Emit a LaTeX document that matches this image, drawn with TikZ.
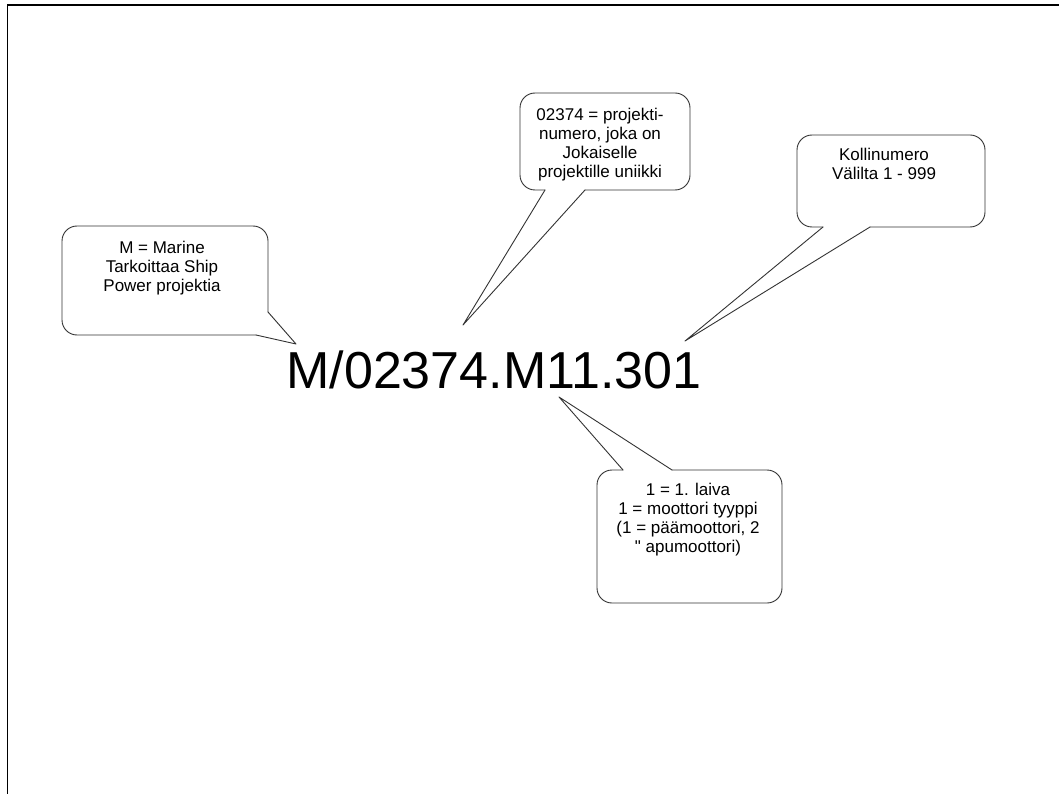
\documentclass[tikz,border=0pt]{standalone}
\usepackage{fontspec}
\setmainfont{Liberation Sans}
\newfontfamily\plainsans{Liberation Sans}
\begin{document}
\begin{tikzpicture}[x=1pt,y=-1pt,
  bubble/.style={draw=black!80, line width=0.9pt, line join=round, line cap=round},
  boxoutline/.style={bubble, rounded corners=15pt},
  bubbletext/.style={anchor=north, inner sep=0pt, align=center, font=\plainsans\fontsize{17}{19}\selectfont},
  frameline/.style={line width=1.8pt}]
\useasboundingbox (0,0) rectangle (1059,794);
\fill[white] (0,0) rectangle (1059,794);
\draw[frameline] (7.5,794) -- (7.5,5) -- (1059,5);

% main code
\node[anchor=base, inner sep=0pt, font=\plainsans\fontsize{52}{60}\selectfont] (code) at (494,388) {M/02374.M11.301};

% left callout
\coordinate (tipA) at (296,344);
\draw[boxoutline] (256,335) -- (62,335) -- (62,226) -- (268,226) -- (268,312);
\draw[bubble] (268,312) -- (tipA) -- (256,335);
\node[bubbletext] (textA) at (162,241) {M = Marine\\Tarkoittaa Ship\\Power projektia};

% top callout
\coordinate (tipB) at (463,325);
\draw[boxoutline] (545,190) -- (520,190) -- (520,93) -- (690,93) -- (690,190) -- (585,190);
\draw[bubble] (545,190) -- (tipB) -- (585,190);
\node[bubbletext] (textB) at (600,108) {02374 = projekti-\\numero, joka on\\Jokaiselle\\projektille uniikki};

% right callout
\coordinate (tipC) at (685,341);
\draw[boxoutline] (823,227) -- (797,227) -- (797,135) -- (985,135) -- (985,227) -- (870,227);
\draw[bubble] (823,227) -- (tipC) -- (870,227);
\node[bubbletext] (textC) at (884,148) {Kollinumero\\Välilta 1 - 999};

% bottom callout
\coordinate (tipD) at (559,397);
\draw[boxoutline] (672,470) -- (782,470) -- (782,603) -- (597,603) -- (597,470) -- (623,470);
\draw[bubble] (623,470) -- (tipD) -- (672,470);
\node[bubbletext] (textD) at (688,483) {1 = 1. laiva\\1 = moottori tyyppi\\(1 = päämoottori, 2\\" apumoottori)};
\end{tikzpicture}
\end{document}
